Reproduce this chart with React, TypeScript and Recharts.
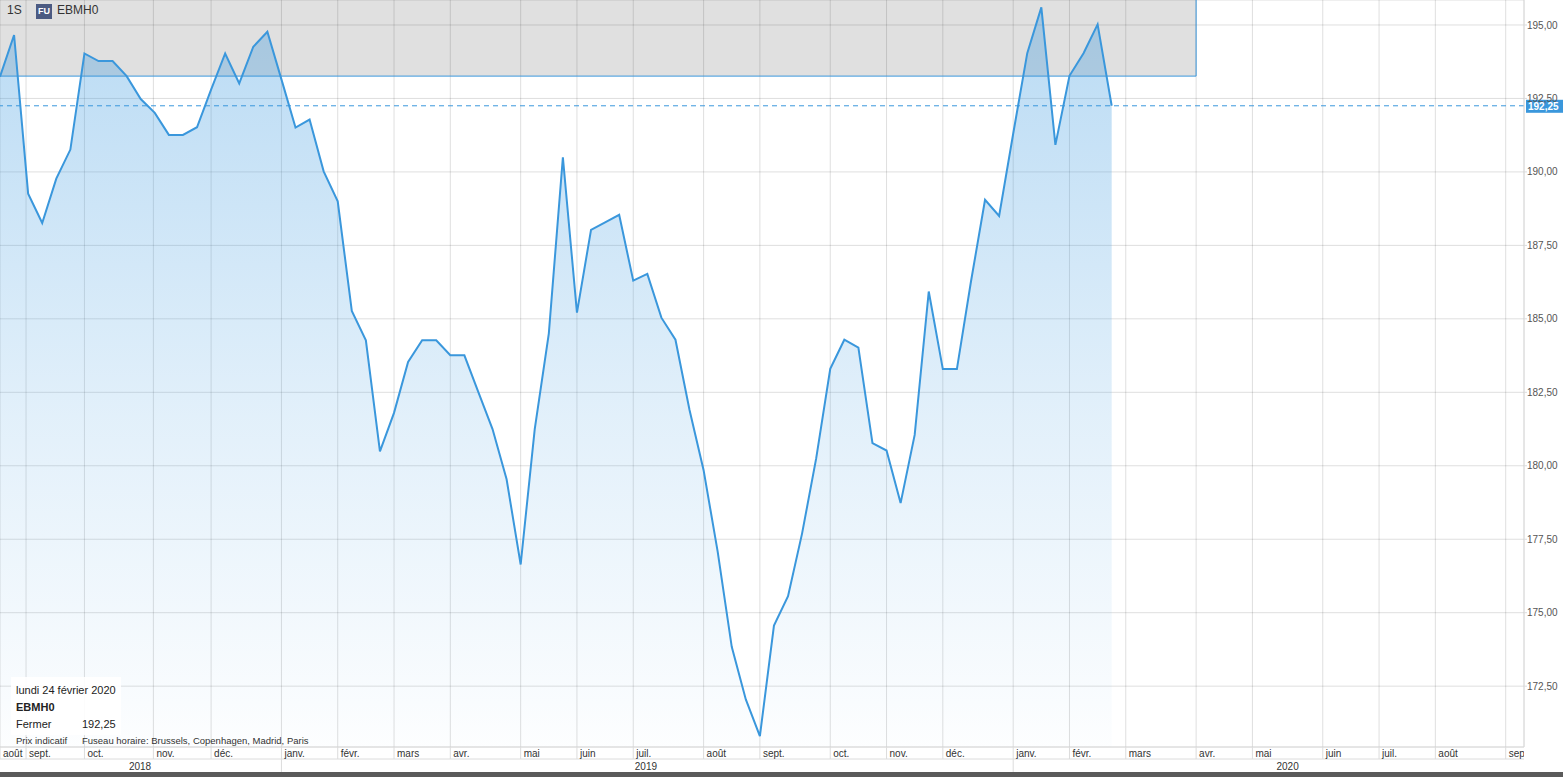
import React from 'react'
import {
  ComposedChart,
  Area,
  XAxis,
  YAxis,
  CartesianGrid,
  ReferenceArea,
  ReferenceLine
} from 'recharts'

// weekly closes, EBMH0, from the week of 20 Aug 2018 to 24 Feb 2020
const closes = [
  193.24, 194.66, 189.26, 188.26, 189.77, 190.76, 194.03, 193.77, 193.77, 193.26,
  192.48, 192.01, 191.26, 191.26, 191.52, 192.8, 194.03, 193.01, 194.26, 194.77,
  193.15, 191.51, 191.78, 190.02, 189.0, 185.27, 184.27, 180.49, 181.8, 183.53,
  184.27, 184.27, 183.76, 183.76, 182.5, 181.25, 179.54, 176.64, 181.25, 184.5,
  190.5, 185.21, 188.03, 188.28, 188.54, 186.3, 186.53, 185.04, 184.29, 181.9,
  179.85, 177.08, 173.84, 172.05, 170.8, 174.56, 175.56, 177.7, 180.25, 183.3,
  184.29, 184.02, 180.77, 180.52, 178.73, 181.05, 185.93, 183.29, 183.29, 186.27,
  189.05, 188.5, 191.3, 194.04, 195.6, 190.92, 193.27, 194.04, 195.02, 192.25
]

const monthLabels = [
  'août', 'sept.', 'oct.', 'nov.', 'déc.', 'janv.', 'févr.', 'mars', 'avr.', 'mai',
  'juin', 'juil.', 'août', 'sept.', 'oct.', 'nov.', 'déc.', 'janv.', 'févr.', 'mars',
  'avr.', 'mai', 'juin', 'juil.', 'août', 'sept.'
]
// week index of the first bar of each month
const monthWeeks = [
  0, 1.85, 6, 10.9, 15, 20, 24, 28, 32, 37, 41, 45, 50, 54, 59, 63, 67, 72, 76, 80,
  85, 89, 94, 98, 102, 107
]

const yearLabels = ['2018', '2019', '2020']
const yearWeeks = [9.95, 45.9, 91.5]

const priceTicks = [172.5, 175, 177.5, 180, 182.5, 185, 187.5, 190, 192.5, 195]
const lastClose = 192.25
const headerFloor = 193.26
const headerEndWeek = 85

const yDomain: [number, number] = [170.43, 195.85]
const xDomain: [number, number] = [0, 108.3]

const data = closes.map((close, week) => ({ week, close }))

const FONT = '"Liberation Sans", Arial, sans-serif'
const BLUE = '#3a97dc'
const PLOT_RIGHT = 1524

const fmt = (v: number) => v.toFixed(2).replace('.', ',')

const MonthTick = (props: any) => {
  const { x, y, payload } = props
  const label = monthLabels[monthWeeks.indexOf(payload.value)]
  const yearStart = label === 'janv.'
  return (
    <g>
      <line x1={x} x2={x} y1={y} y2={y + (yearStart ? 25 : 12)} stroke="#dcdcdc" />
      <text x={x + 3} y={y + 10} fontSize={10} fill="#333" clipPath="url(#axisClip)">
        {label}
      </text>
    </g>
  )
}

const YearTick = (props: any) => {
  const { x, y, payload } = props
  const label = yearLabels[yearWeeks.indexOf(payload.value)]
  return (
    <text x={x} y={y + 11} fontSize={10} fill="#333" textAnchor="middle">
      {label}
    </text>
  )
}

const PriceTag = (props: any) => {
  const vb = props.viewBox || {}
  const right = (vb.x || 0) + (vb.width || 0)
  const y = vb.y || 0
  return (
    <g>
      <rect x={right + 2} y={y - 6} width={37} height={13} fill={BLUE} />
      <text x={right + 4} y={y + 4} fontSize={10} fontWeight="bold" fill="#fff">
        {fmt(lastClose)}
      </text>
    </g>
  )
}

export default function App() {
  return (
    <div
      style={{
        position: 'absolute',
        left: 0,
        top: 0,
        width: 1563,
        height: 777,
        background: '#fff',
        fontFamily: FONT,
        overflow: 'hidden'
      }}
    >
      <ComposedChart
        width={1563}
        height={772}
        data={data}
        margin={{ top: 0, right: 0, bottom: 0, left: 0 }}
      >
        <defs>
          <linearGradient id="fadeBlue" x1="0" y1="0" x2="0" y2="1">
            <stop offset="0%" stopColor="#3d9ae0" stopOpacity={0.6} />
            <stop offset="55%" stopColor="#3d9ae0" stopOpacity={0.25} />
            <stop offset="100%" stopColor="#3d9ae0" stopOpacity={0.02} />
          </linearGradient>
          <clipPath id="axisClip">
            <rect x={0} y={0} width={PLOT_RIGHT} height={777} />
          </clipPath>
        </defs>
        <ReferenceArea
          x1={0}
          x2={headerEndWeek}
          y1={headerFloor}
          y2={yDomain[1]}
          fill="#000"
          fillOpacity={0.12}
          stroke="none"
        />
        <CartesianGrid stroke="rgba(0,0,0,0.13)" />
        <XAxis
          dataKey="week"
          type="number"
          domain={xDomain}
          ticks={monthWeeks}
          interval={0}
          height={12}
          tickSize={0}
          tickMargin={0}
          tickLine={false}
          axisLine={{ stroke: '#dcdcdc' }}
          tick={<MonthTick />}
          allowDataOverflow
        />
        <XAxis
          xAxisId="yr"
          dataKey="week"
          type="number"
          domain={xDomain}
          ticks={yearWeeks}
          interval={0}
          height={13}
          tickSize={0}
          tickMargin={0}
          tickLine={false}
          axisLine={{ stroke: '#dcdcdc' }}
          tick={<YearTick />}
          allowDataOverflow
        />
        <YAxis
          orientation="right"
          width={39}
          domain={yDomain}
          ticks={priceTicks}
          interval={0}
          tickSize={3}
          tickMargin={0}
          tickLine={{ stroke: '#dcdcdc' }}
          axisLine={{ stroke: '#dcdcdc' }}
          tick={{ fill: '#555', fontSize: 10 }}
          tickFormatter={fmt}
          allowDataOverflow
        />
        <Area
          type="linear"
          dataKey="close"
          stroke={BLUE}
          strokeWidth={2}
          fill="url(#fadeBlue)"
          dot={false}
          activeDot={false}
          isAnimationActive={false}
        />
        <ReferenceLine
          segment={[
            { x: 0, y: headerFloor },
            { x: headerEndWeek, y: headerFloor }
          ]}
          stroke={BLUE}
          strokeWidth={1}
        />
        <ReferenceLine
          segment={[
            { x: headerEndWeek, y: headerFloor },
            { x: headerEndWeek, y: yDomain[1] }
          ]}
          stroke={BLUE}
          strokeWidth={1}
        />
        <ReferenceLine
          y={lastClose}
          stroke={BLUE}
          strokeDasharray="5 4"
          label={(p: any) => <PriceTag {...p} />}
        />
      </ComposedChart>

      {/* header */}
      <div style={{ position: 'absolute', left: 7, top: 3, fontSize: 12, color: '#333' }}>1S</div>
      <div
        style={{
          position: 'absolute',
          left: 36,
          top: 4,
          width: 16,
          height: 15,
          background: '#4b5a82',
          color: '#fff',
          fontSize: 9,
          fontWeight: 'bold',
          lineHeight: '15px',
          textAlign: 'center'
        }}
      >
        FU
      </div>
      <div style={{ position: 'absolute', left: 57, top: 3, fontSize: 12, color: '#333' }}>EBMH0</div>

      {/* info box */}
      <div
        style={{
          position: 'absolute',
          left: 11,
          top: 677,
          width: 110,
          height: 58,
          background: 'rgba(255,255,255,0.9)'
        }}
      />
      <div style={{ position: 'absolute', left: 16, top: 684, fontSize: 11, color: '#222' }}>
        lundi 24 février 2020
      </div>
      <div style={{ position: 'absolute', left: 16, top: 701, fontSize: 11, fontWeight: 'bold', color: '#222' }}>
        EBMH0
      </div>
      <div style={{ position: 'absolute', left: 16, top: 718, fontSize: 11, color: '#222' }}>Fermer</div>
      <div style={{ position: 'absolute', left: 82, top: 718, fontSize: 11, color: '#222' }}>
        {fmt(lastClose)}
      </div>
      <div style={{ position: 'absolute', left: 16, top: 735, fontSize: 9.5, color: '#333' }}>
        Prix indicatif
      </div>
      <div style={{ position: 'absolute', left: 82, top: 735, fontSize: 9.5, color: '#333' }}>
        Fuseau horaire: Brussels, Copenhagen, Madrid, Paris
      </div>

      {/* navigator strip */}
      <div
        style={{
          position: 'absolute',
          left: 0,
          top: 772,
          width: 1563,
          height: 5,
          background: '#5a5a5a'
        }}
      />
    </div>
  )
}
